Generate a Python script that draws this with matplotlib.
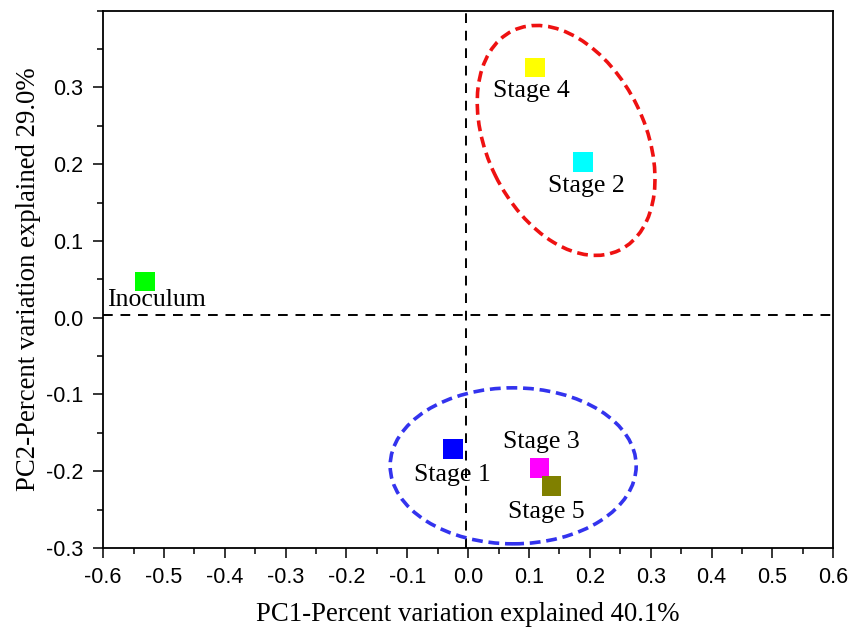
import matplotlib
matplotlib.use("Agg")
import matplotlib.pyplot as plt
from matplotlib.patches import Ellipse
from matplotlib.transforms import ScaledTranslation
from matplotlib.ticker import MultipleLocator

# PCA scores
samples = ["Inoculum", "Stage 1", "Stage 2", "Stage 3", "Stage 4", "Stage 5"]
pc1 = [-0.531, -0.025, 0.189, 0.117, 0.110, 0.137]
pc2 = [0.047, -0.171, 0.203, -0.196, 0.326, -0.219]
colors = ["#00ff00", "#0000ff", "#00ffff", "#ff00ff", "#ffff00", "#808000"]

# where each label sits (data coords)
label_x = [-0.593, -0.026, 0.194, 0.120, 0.104, 0.128]
label_y = [0.023, -0.205, 0.171, -0.162, 0.295, -0.253]
label_ha = ["left", "center", "center", "center", "center", "center"]

serif = "Liberation Serif"
sans = "Liberation Sans"

fig = plt.figure(figsize=(8.59, 6.32), dpi=100)
ax = fig.add_axes([0.120, 0.133, 0.850, 0.850])

ax.set_xlim(-0.6, 0.6)
ax.set_ylim(-0.3, 0.4)

# zero lines
ax.axhline(0.003, color="black", lw=1.4, dashes=(5, 4), zorder=1)
ax.axvline(-0.003, color="black", lw=1.4, dashes=(5, 4), zorder=1)

# group ellipses: size in inches, centre in data
red = Ellipse((0, 0), 2.44, 1.58, angle=-64, fill=False, ec="#ee1111",
              lw=2.6, ls=(0, (3, 1.6)),
              transform=fig.dpi_scale_trans + ScaledTranslation(0.161, 0.231, ax.transData))
blue = Ellipse((0, 0), 2.46, 1.56, angle=0, fill=False, ec="#3333ee",
               lw=2.6, ls=(0, (3, 1.6)),
               transform=fig.dpi_scale_trans + ScaledTranslation(0.074, -0.193, ax.transData))
ax.add_patch(red)
ax.add_patch(blue)

for x, y, c in zip(pc1, pc2, colors):
    ax.scatter(x, y, marker="s", s=200, color=c, edgecolors="none", zorder=3)

for name, x, y, ha in zip(samples, label_x, label_y, label_ha):
    ax.text(x, y, name, ha=ha, va="center", fontsize=18.5, family=serif, zorder=4)

ax.set_xticks([-0.6, -0.5, -0.4, -0.3, -0.2, -0.1, 0.0, 0.1, 0.2, 0.3, 0.4, 0.5, 0.6])
ax.set_yticks([-0.3, -0.2, -0.1, 0.0, 0.1, 0.2, 0.3])
ax.xaxis.set_minor_locator(MultipleLocator(0.05))
ax.yaxis.set_minor_locator(MultipleLocator(0.05))
ax.tick_params(which="both", direction="out", top=False, right=False, width=1.1)
ax.tick_params(which="major", length=7.5, labelsize=15.5)
ax.tick_params(axis="x", which="major", pad=6)
ax.tick_params(axis="y", which="major", pad=7)
ax.tick_params(which="minor", length=4)
for lab in ax.get_xticklabels() + ax.get_yticklabels():
    lab.set_family(sans)
ax.xaxis.set_major_formatter(plt.FuncFormatter(lambda v, p: f"{v:.1f}"))
ax.yaxis.set_major_formatter(plt.FuncFormatter(lambda v, p: f"{v:.1f}"))
for sp in ax.spines.values():
    sp.set_linewidth(1.3)

ax.set_xlabel("PC1-Percent variation explained 40.1%", fontsize=19.3, family=serif, labelpad=10)
ax.set_ylabel("PC2-Percent variation explained 29.0%", fontsize=19.3, family=serif, labelpad=3)

fig.savefig("out.png", dpi=100)
